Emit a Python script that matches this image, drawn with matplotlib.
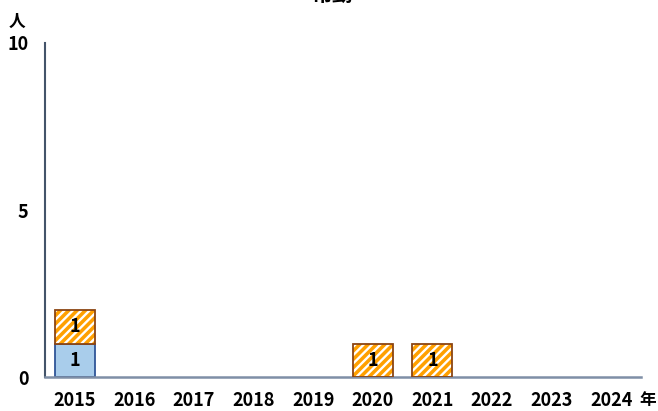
import numpy as np
import matplotlib
matplotlib.use("Agg")
from matplotlib import pyplot as plt

plt.rcParams['font.family'] = ['Noto Sans CJK JP', 'DejaVu Sans']
plt.rcParams['hatch.linewidth'] = 1.7

years = ['2015', '2016', '2017', '2018', '2019', '2020', '2021', '2022', '2023', '2024']
lower = [1, 0, 0, 0, 0, 0, 0, 0, 0, 0]
upper = [1, 0, 0, 0, 0, 1, 1, 0, 0, 0]
title = '常勤'

fig = plt.figure(figsize=(6.58, 4.11), dpi=100)
ax = fig.add_axes([45 / 658, 34 / 411, 596 / 658, 334 / 411])

x = np.arange(len(years))
w = 0.67
lower = np.array(lower)
upper = np.array(upper)

# only draw the non-zero segments
lo = lower > 0
up = upper > 0

# lower series (blue)
ax.bar(x[lo], lower[lo], w, color='#A9CDEB', edgecolor='#2F5597', linewidth=1.3, zorder=2)
# upper series (orange hatch)
ax.bar(x[up], upper[up], w, bottom=lower[up], color='#FFA000', edgecolor='white',
       hatch='////', linewidth=0, zorder=2)
ax.bar(x[up], upper[up], w, bottom=lower[up], color='none', edgecolor='#8B4513',
       linewidth=1.3, zorder=3)

for i in range(len(years)):
    if lower[i] > 0:
        ax.text(x[i], lower[i] / 2, str(lower[i]), ha='center', va='center',
                fontsize=13, fontweight='bold', zorder=4)
    if upper[i] > 0:
        ax.text(x[i], lower[i] + upper[i] / 2, str(upper[i]), ha='center', va='center',
                fontsize=13, fontweight='bold', zorder=4)

ax.set_xlim(-0.5, len(years) - 0.5)
ax.set_ylim(0, 10)
ax.set_yticks([0, 5, 10])
ax.set_xticks(x)
ax.set_xticklabels(years)
ax.tick_params(length=0, labelsize=13)
ax.tick_params(axis='x', pad=10)
ax.tick_params(axis='y', pad=12)
for lab in ax.get_xticklabels() + ax.get_yticklabels():
    lab.set_fontweight('bold')

for s in ['top', 'right']:
    ax.spines[s].set_visible(False)
ax.spines['left'].set_color('#44546A')
ax.spines['bottom'].set_color('#7F8FA6')
ax.spines['left'].set_linewidth(1.5)
ax.spines['bottom'].set_linewidth(1.8)

fig.text(17 / 658, (411 - 22) / 411, '人', ha='center', va='center',
         fontsize=12, fontweight='bold')
fig.text(648 / 658, (411 - 400) / 411, '年', ha='center', va='center',
         fontsize=12, fontweight='bold')
fig.text(332 / 658, (411 - 5) / 411, title, ha='center', va='bottom',
         fontsize=15, fontweight='bold')

fig.savefig('out.png', dpi=100)
